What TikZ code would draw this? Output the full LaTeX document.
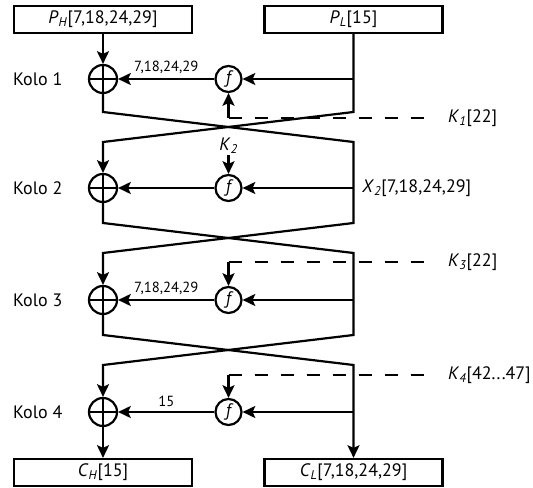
\documentclass[tikz,border=0pt]{standalone}
\usepackage{fontspec}
\setmainfont{PT Sans}
\usetikzlibrary{arrows.meta}
\newcommand{\sym}[2]{\textit{#1}\textsubscript{\textit{#2}}}
\begin{document}
\begin{tikzpicture}[x=0.75pt,y=-0.75pt, line width=1.65pt,
  arr/.style={-{Stealth[length=9.5pt,width=9pt,inset=2pt]}},
  box/.style={draw, rectangle, minimum width=133.5pt, minimum height=20.25pt, inner sep=0pt, font=\fontsize{13.5}{15}\selectfont},
  xorn/.style={draw, circle, minimum size=21pt, inner sep=0pt, path picture={\draw[line width=1.6pt] (path picture bounding box.north) -- (path picture bounding box.south) (path picture bounding box.west) -- (path picture bounding box.east);}},
  fn/.style={draw, circle, minimum size=19.5pt, inner sep=0pt, font=\fontsize{13.5}{15}\selectfont\itshape},
  lbl/.style={font=\fontsize{13.5}{15}\selectfont, inner sep=0pt, anchor=west},
  small/.style={font=\fontsize{11}{13}\selectfont, inner sep=0pt, above=3pt},
  kdash/.style={dash pattern=on 9.75pt off 9.75pt}
]
\useasboundingbox (0,0) rectangle (533,488);
% boxes
\node[box] (ph) at (103,19.5) {\sym{P}{H}[7,18,24,29]};
\node[box] (pl) at (353.5,19.5) {\sym{P}{L}[15]};
\node[box] (ch) at (103,472.5) {\sym{C}{H}[15]};
\node[box] (cl) at (353.5,472.5) {\sym{C}{L}[7,18,24,29]};
% round elements
\node[xorn] (x1) at (103,79) {};
\node[xorn] (x2) at (103,188) {};
\node[xorn] (x3) at (103,300) {};
\node[xorn] (x4) at (103,412) {};
\node[fn] (f1) at (228.5,79) {f};
\node[fn] (f2) at (228.5,188) {f};
\node[fn] (f3) at (228.5,300) {f};
\node[fn] (f4) at (228.5,412) {f};
% round labels
\node[lbl] (kolo1) at (12,79) {Kolo 1};
\node[lbl] (kolo2) at (12,188) {Kolo 2};
\node[lbl] (kolo3) at (12,300) {Kolo 3};
\node[lbl] (kolo4) at (12,412) {Kolo 4};
% coordinates
\coordinate (r1) at (353.5,79);
\coordinate (r2) at (353.5,188);
\coordinate (r3) at (353.5,300);
\coordinate (r4) at (353.5,412);
\coordinate (l1b) at (103,112);  \coordinate (r1b) at (353.5,112);
\coordinate (l2t) at (103,142);  \coordinate (r2t) at (353.5,142);
\coordinate (l2b) at (103,223);  \coordinate (r2b) at (353.5,223);
\coordinate (l3t) at (103,253);  \coordinate (r3t) at (353.5,253);
\coordinate (l3b) at (103,335);  \coordinate (r3b) at (353.5,335);
\coordinate (l4t) at (103,365);  \coordinate (r4t) at (353.5,365);
% main lines
\draw[arr] (ph) -- (x1);
\draw[arr] (pl) -- (r1b) -- (l2t) -- (x2);
\draw[arr] (x1) -- (l1b) -- (r2t) -- (r2b) -- (l3t) -- (x3);
\draw[arr] (x2) -- (l2b) -- (r3t) -- (r3b) -- (l4t) -- (x4);
\draw[arr] (x3) -- (l3b) -- (r4t) -- (cl);
\draw[arr] (x4) -- (ch);
% f paths
\draw[arr] (r1) -- (f1);
\draw[arr] (r2) -- (f2);
\draw[arr] (r3) -- (f3);
\draw[arr] (r4) -- (f4);
\draw[arr] (f1) -- node[small] {7,18,24,29} (x1);
\draw[arr] (f2) -- (x2);
\draw[arr] (f3) -- node[small] {7,18,24,29} (x3);
\draw[arr] (f4) -- node[small] {15} (x4);
% X2 label
\node[lbl] (x2l) at (361,188) {\sym{X}{2}[7,18,24,29]};
% keys
\node[lbl] (k1) at (447,118) {\sym{K}{1}[22]};
\node[lbl] (k3) at (447,262) {\sym{K}{3}[22]};
\node[lbl] (k4) at (447,375) {\sym{K}{4}[42...47]};
\node[font=\fontsize{13.5}{15}\selectfont, inner sep=0pt] (k2) at (228.5,146) {\sym{K}{2}};
\coordinate (k1c) at (228.5,118);
\coordinate (k3c) at (228.5,262);
\coordinate (k4c) at (228.5,375);
\draw[kdash, shorten >=9pt] (k1c) -- (k1.west);
\draw[kdash, shorten >=9pt] (k3c) -- (k3.west);
\draw[kdash, shorten >=9pt] (k4c) -- (k4.west);
\draw[arr] (k1c) -- (f1);
\draw[arr] (k3c) -- (f3);
\draw[arr] (k4c) -- (f4);
\draw[arr] (k2) -- (f2);
\end{tikzpicture}
\end{document}
